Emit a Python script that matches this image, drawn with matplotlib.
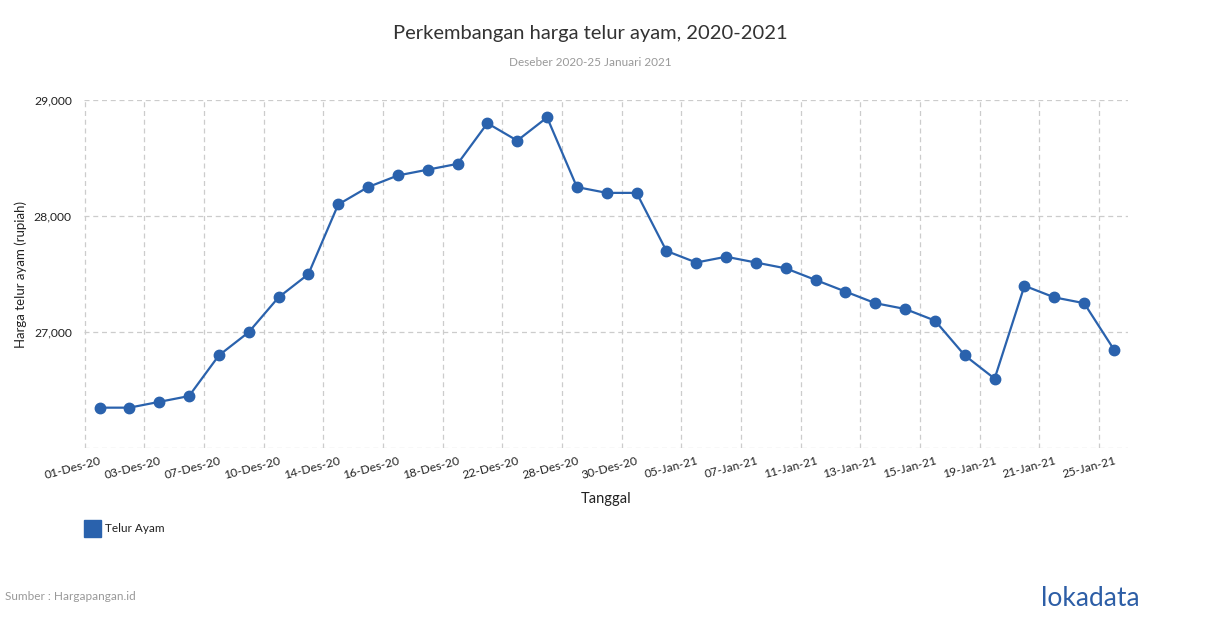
import matplotlib
matplotlib.use("Agg")
import matplotlib.pyplot as plt
from matplotlib.ticker import FixedLocator, FuncFormatter
from matplotlib.patches import Rectangle

dates = ["01-Des-20", "02-Des-20", "03-Des-20", "04-Des-20", "07-Des-20", "08-Des-20",
         "10-Des-20", "11-Des-20", "14-Des-20", "15-Des-20", "16-Des-20", "17-Des-20",
         "18-Des-20", "21-Des-20", "22-Des-20", "23-Des-20", "28-Des-20", "29-Des-20",
         "30-Des-20", "04-Jan-21", "05-Jan-21", "06-Jan-21", "07-Jan-21", "08-Jan-21",
         "11-Jan-21", "12-Jan-21", "13-Jan-21", "14-Jan-21", "15-Jan-21", "18-Jan-21",
         "19-Jan-21", "20-Jan-21", "21-Jan-21", "22-Jan-21", "25-Jan-21"]
harga = [26350, 26350, 26400, 26450, 26800, 27000, 27300, 27500, 28100, 28250,
         28350, 28400, 28450, 28800, 28650, 28850, 28250, 28200, 28200, 27700,
         27600, 27650, 27600, 27550, 27450, 27350, 27250, 27200, 27100, 26800,
         26600, 27400, 27300, 27250, 26850]
y_ticks = [26000, 27000, 28000, 29000]
series_name = "Telur Ayam"

plt.rcParams['font.family'] = ['Lato', 'DejaVu Sans']
blue = "#2a62ad"

fig = plt.figure(figsize=(12.1, 6.28), dpi=100)
ax = fig.add_axes([84.3/1210, 1-448.3/628, (1128-84.3)/1210, (448.3-100)/628])

x = list(range(len(dates)))
ax.plot(x, harga, color=blue, lw=1.6, marker='o', ms=7.5, zorder=3, clip_on=False)

ax.set_xlim(-0.51, 34.47)
ax.set_ylim(26000, 29000)

ax.set_yticks(y_ticks)
ax.yaxis.set_major_formatter(FuncFormatter(lambda v, p: "" if v == 26000 else f"{int(v):,}"))

major = x[::2]
ax.xaxis.set_major_locator(FixedLocator(major))
ax.set_xticklabels([dates[i] for i in major])
ax.xaxis.set_minor_locator(FixedLocator([i - 0.5 for i in major]))

for lab in ax.get_xticklabels():
    lab.set_rotation(15)
    lab.set_ha('right')
    lab.set_va('top')
    lab.set_rotation_mode('anchor')

ax.tick_params(axis='x', which='both', length=0, pad=5, labelsize=8.7, labelcolor='#222222')
ax.tick_params(axis='y', length=0, pad=9, labelsize=8.7, labelcolor='#222222')

ax.grid(False)
ax.xaxis.grid(True, which='minor', color='#cccccc', linestyle=(0, (4, 3)), lw=0.9)
ax.yaxis.grid(True, which='major', color='#cccccc', linestyle=(0, (4, 3)), lw=0.9)
for s in ax.spines.values():
    s.set_visible(False)

ax.set_xlabel("Tanggal", fontsize=10.5, color='#222222')
ax.set_ylabel("Harga telur ayam (rupiah)", fontsize=9.5, color='#222222')
ax.yaxis.set_label_coords(-0.0545, 0.5)
ax.xaxis.set_label_coords(0.5, -0.125)

fig.text(590/1210, 1-33/628, "Perkembangan harga telur ayam, 2020-2021", ha='center', va='center',
         fontsize=14.5, color='#333333')
fig.text(590/1210, 1-62/628, "Deseber 2020-25 Januari 2021", ha='center', va='center',
         fontsize=8.5, color='#999999')

fig.patches.append(Rectangle((84/1210, 1-537/628), 17/1210, 17/628, transform=fig.transFigure,
                             color=blue, figure=fig))
fig.text(105/1210, 1-529/628, series_name, ha='left', va='center', fontsize=8.5, color='#222222')

fig.text(5/1210, 1-596/628, "Sumber : Hargapangan.id", ha='left', va='center', fontsize=8.5, color='#999999')
fig.text(1140/1210, 1-598/628, "lokadata", ha='right', va='center', fontsize=19, color='#2d5ea6')

fig.savefig("out.png", dpi=100)
